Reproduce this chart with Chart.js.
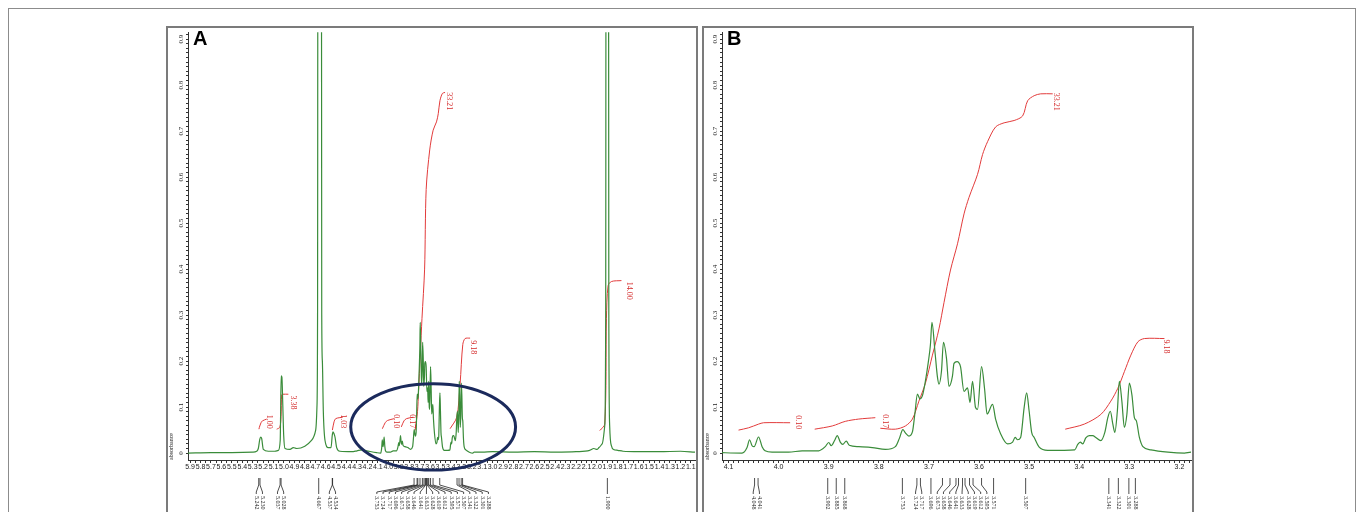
<!DOCTYPE html>
<html>
<head>
<meta charset="utf-8">
<script src="https://cdn.jsdelivr.net/npm/chart.js@4.4.0/dist/chart.umd.min.js"></script>
<style>
  body { margin: 0; background: #fff; width: 1358px; height: 512px; overflow: hidden; position: relative; }
  #frame { position: absolute; left: 8px; top: 8px; width: 1346px; height: 540px; border: 1px solid #8c8c8c; }
  .panel { position: absolute; top: 26px; height: 520px; border: 2px solid #7b7b7b; box-sizing: border-box; }
  #panelA { left: 166px; width: 532px; }
  #panelB { left: 702px; width: 492px; }
  canvas { position: absolute; }
  .tag { position: absolute; top: 28px; font: bold 20px "Liberation Sans", Arial, sans-serif; line-height: 20px; color: #000; }
</style>
</head>
<body>
<div id="frame"></div>
<div class="panel" id="panelA"></div>
<div class="panel" id="panelB"></div>
<canvas id="chartA" width="528" height="484" style="left:168px;top:28px"></canvas>
<canvas id="chartB" width="488" height="484" style="left:704px;top:28px"></canvas>
<div class="tag" style="left:193px">A</div>
<div class="tag" style="left:727px">B</div>
<script>
// 1H NMR spectrum, chemical shift (ppm) and absorbance
const spectrumPpm = [
  5.92, 5.7, 5.5, 5.3, 5.262, 5.246, 5.232, 5.223, 5.214, 5.198, 5.15, 5.09, 5.054,
  5.036, 5.027, 5.02, 5.012, 5.003, 4.99, 4.942, 4.911, 4.878, 4.8, 4.734, 4.696, 4.684,
  4.678, 4.674, 4.642, 4.638, 4.632, 4.623, 4.607, 4.575, 4.549, 4.537, 4.53,
  4.522, 4.511, 4.495, 4.463, 4.35, 4.3, 4.255, 4.207, 4.113,
  4.073, 4.063, 4.058, 4.053, 4.049, 4.040, 4.033, 4.027, 4.013, 3.98, 3.953, 3.92,
  3.907, 3.900, 3.895, 3.888, 3.883, 3.877, 3.872, 3.865, 3.859, 3.84, 3.813, 3.787,
  3.767, 3.759, 3.752, 3.747, 3.740, 3.733, 3.728, 3.723, 3.718, 3.713, 3.707, 3.701,
  3.697, 3.694, 3.688, 3.683, 3.680, 3.675, 3.671, 3.665, 3.660, 3.653, 3.650, 3.644,
  3.637, 3.630, 3.623, 3.618, 3.613, 3.607, 3.603, 3.595, 3.589, 3.584, 3.573, 3.567,
  3.557, 3.543, 3.533, 3.528, 3.523, 3.517, 3.510, 3.505, 3.500, 3.495, 3.490, 3.480,
  3.463, 3.430, 3.409, 3.403, 3.398, 3.393, 3.387, 3.380, 3.373, 3.367, 3.357, 3.349,
  3.343, 3.338, 3.333, 3.329, 3.324, 3.320, 3.315, 3.310, 3.305, 3.300, 3.295, 3.290,
  3.286, 3.280, 3.273, 3.257, 3.223, 3.190, 3.177,
  3.1, 3.0, 2.8, 2.6, 2.4, 2.2, 2.07, 2.03, 2.0, 1.98, 1.95, 1.925, 1.916, 1.912, 1.89,
  1.886, 1.878, 1.86, 1.84, 1.8, 1.75, 1.6, 1.4, 1.2, 1.06
];
const spectrumAbs = [
  0.0, 0.001, 0.001, 0.002, 0.004, 0.01, 0.03, 0.035, 0.032, 0.008, 0.004, 0.004, 0.006,
  0.028, 0.168, 0.165, 0.11, 0.04, 0.01, 0.008, 0.012, 0.01, 0.015, 0.028, 0.05, 0.1,
  0.3, 1.5, 1.5, 0.3, 0.2, 0.092, 0.028, 0.012, 0.012, 0.039, 0.046,
  0.043, 0.035, 0.012, 0.004, 0.003, 0.005, 0.007, 0.005, 0.001,
  0.0, 0.012, 0.029, 0.016, 0.014, 0.035, 0.014, 0.005, 0.002, 0.002, 0.005, 0.005,
  0.014, 0.023, 0.016, 0.028, 0.038, 0.024, 0.019, 0.026, 0.017, 0.014, 0.012, 0.008,
  0.014, 0.032, 0.051, 0.044, 0.037, 0.046, 0.086, 0.128, 0.118, 0.125, 0.157, 0.2,
  0.236, 0.284, 0.221, 0.165, 0.15, 0.178, 0.241, 0.206, 0.145, 0.168, 0.195, 0.199,
  0.188, 0.134, 0.142, 0.11, 0.156, 0.099, 0.095, 0.188, 0.14, 0.085, 0.106, 0.074,
  0.042, 0.02, 0.024, 0.034, 0.029, 0.034, 0.099, 0.131, 0.091, 0.045, 0.034, 0.013,
  0.006, 0.006, 0.007, 0.019, 0.024, 0.02, 0.033, 0.038, 0.038, 0.034, 0.027, 0.045,
  0.077, 0.091, 0.063, 0.045, 0.091, 0.156, 0.113, 0.056, 0.084, 0.152, 0.127, 0.077,
  0.07, 0.034, 0.014, 0.007, 0.002, 0.0, 0.002,
  0.002, 0.003, 0.002, 0.003, 0.002, 0.003, 0.006, 0.01, 0.008, 0.012, 0.02, 0.06, 0.3, 1.5, 1.5,
  0.3, 0.06, 0.015, 0.008, 0.006, 0.004, 0.003, 0.003, 0.004, 0.002
];

const absTicks = [0, 0.1, 0.2, 0.3, 0.4, 0.5, 0.6, 0.7, 0.8, 0.9];
const ppmTicksA = [5.9, 5.8, 5.7, 5.6, 5.5, 5.4, 5.3, 5.2, 5.1, 5.0, 4.9, 4.8, 4.7, 4.6, 4.5,
  4.4, 4.3, 4.2, 4.1, 4.0, 3.9, 3.8, 3.7, 3.6, 3.5, 3.4, 3.3, 3.2, 3.1, 3.0, 2.9, 2.8, 2.7,
  2.6, 2.5, 2.4, 2.3, 2.2, 2.1, 2.0, 1.9, 1.8, 1.7, 1.6, 1.5, 1.4, 1.3, 1.2, 1.1];
const ppmTicksB = [4.1, 4.0, 3.9, 3.8, 3.7, 3.6, 3.5, 3.4, 3.3, 3.2];

// integral traces [ppm, value], their labels and label anchors
const integralsA = [
  [[5.24, 0.052], [5.236, 0.056], [5.22, 0.066], [5.207, 0.07], [5.165, 0.074]],
  [[5.07, 0.052], [5.04, 0.056], [5.028, 0.08], [5.022, 0.127], [5.01, 0.128], [4.958, 0.128]],
  [[4.536, 0.05], [4.52, 0.068], [4.503, 0.075], [4.437, 0.078]],
  [[4.057, 0.053], [4.03, 0.066], [4.007, 0.071], [3.941, 0.075]],
  [[3.875, 0.057], [3.85, 0.07], [3.825, 0.075], [3.76, 0.078]],
  [[3.743, 0.049], [3.72, 0.09], [3.71, 0.135], [3.677, 0.293], [3.652, 0.40], [3.637, 0.573],
   [3.603, 0.659], [3.57, 0.702], [3.538, 0.72], [3.521, 0.738], [3.505, 0.766], [3.481, 0.782], [3.456, 0.784]],
  [[3.408, 0.053], [3.344, 0.078], [3.312, 0.15], [3.286, 0.236], [3.264, 0.249], [3.216, 0.25]],
  [[1.973, 0.049], [1.925, 0.063], [1.909, 0.292], [1.893, 0.364], [1.861, 0.373], [1.765, 0.375]]
];
const integralTextA = ['1.00', '3.38', '1.03', '0.10', '0.17', '33.21', '9.18', '14.00'];
const integralAtA = [[5.143, 0.068], [4.913, 0.11], [4.434, 0.069], [3.926, 0.069], [3.773, 0.069],
  [3.418, 0.765], [3.188, 0.23], [1.692, 0.353]];

const integralsB = [
  [[4.08, 0.05], [4.06, 0.055], [4.04, 0.063], [4.03, 0.066], [3.977, 0.066]],
  [[3.928, 0.052], [3.893, 0.059], [3.867, 0.069], [3.84, 0.074], [3.807, 0.077]],
  [[3.797, 0.054], [3.767, 0.052], [3.747, 0.059], [3.733, 0.074], [3.72, 0.113], [3.707, 0.152],
   [3.693, 0.213], [3.68, 0.27], [3.67, 0.327], [3.657, 0.398], [3.643, 0.455], [3.63, 0.52],
   [3.62, 0.556], [3.603, 0.606], [3.593, 0.649], [3.583, 0.677], [3.567, 0.709], [3.55, 0.718],
   [3.53, 0.723], [3.513, 0.733], [3.503, 0.766], [3.49, 0.777], [3.477, 0.781], [3.453, 0.781]],
  [[3.428, 0.052], [3.39, 0.063], [3.357, 0.084], [3.337, 0.113], [3.323, 0.141], [3.31, 0.177],
   [3.297, 0.213], [3.283, 0.242], [3.27, 0.249], [3.23, 0.249]]
];
const integralTextB = ['0.10', '0.17', '33.21', '9.18'];
const integralAtB = [[3.962, 0.067], [3.788, 0.069], [3.446, 0.764], [3.226, 0.232]];

// picked peaks printed under the axis
const peaksA = [5.242, 5.230, 5.037, 5.028, 4.667, 4.537, 4.534, 3.753, 3.724, 3.717, 3.696,
  3.673, 3.658, 3.646, 3.641, 3.633, 3.628, 3.619, 3.612, 3.595, 3.571, 3.507, 3.341, 3.322,
  3.301, 3.288, 1.900];
const peaksB = [4.048, 4.041, 3.902, 3.885, 3.868, 3.753, 3.724, 3.717, 3.696, 3.673, 3.658,
  3.646, 3.641, 3.633, 3.628, 3.619, 3.612, 3.595, 3.571, 3.507, 3.341, 3.322, 3.301, 3.288];

// circled region in panel A (centre and half axes, in ppm / absorbance)
const circleA = [3.57, 0.057, 0.79, 0.094];

const GREEN = '#3a8c3a';
const RED = '#e23b3b';

function tickList(lo, hi, step) {
  const out = [];
  const first = Math.ceil(lo / step - 1e-6), last = Math.floor(hi / step + 1e-6);
  for (let k = first; k <= last; k++) out.push({ value: +(k * step).toFixed(4) });
  return out;
}

function isMajor(list, v) {
  return list.some((m) => Math.abs(m - v) < 1e-6);
}

const marksPlugin = {
  id: 'marks',
  afterDatasetsDraw(chart, args, opts) {
    const { ctx, scales: { x, y } } = chart;
    ctx.save();

    // integral values
    ctx.fillStyle = '#d42a2a';
    ctx.font = '8px "Liberation Serif", serif';
    ctx.textAlign = 'center';
    ctx.textBaseline = 'middle';
    opts.texts.forEach((t, i) => {
      const px = x.getPixelForValue(opts.at[i][0]);
      const py = y.getPixelForValue(opts.at[i][1]);
      ctx.save();
      ctx.translate(px, py);
      ctx.rotate(Math.PI / 2);
      ctx.fillText(t, 0, 0);
      ctx.restore();
    });

    // peak picking lines and labels
    const base = x.top;
    const pos = opts.peaks.map((p) => x.getPixelForValue(p));
    const lab = pos.slice();
    const gap = 6.2;
    for (let it = 0; it < 300; it++) {
      for (let i = 1; i < lab.length; i++) {
        const d = lab[i] - lab[i - 1];
        if (d < gap) {
          const m = (gap - d) / 2;
          lab[i - 1] -= m;
          lab[i] += m;
        }
      }
    }
    ctx.strokeStyle = '#222';
    ctx.lineWidth = 0.8;
    ctx.fillStyle = '#222';
    ctx.font = '6px "Liberation Serif", serif';
    ctx.textAlign = 'left';
    pos.forEach((p, i) => {
      ctx.beginPath();
      ctx.moveTo(p, base + 18);
      ctx.lineTo(p, base + 25);
      ctx.lineTo(lab[i], base + 32);
      ctx.lineTo(lab[i], base + 34);
      ctx.stroke();
      ctx.save();
      ctx.translate(lab[i], base + 36);
      ctx.rotate(Math.PI / 2);
      ctx.fillText(opts.peaks[i].toFixed(3), 0, 0);
      ctx.restore();
    });

    // highlight ellipse
    if (opts.circle) {
      const [c, a, hx, hy] = opts.circle;
      const cx = x.getPixelForValue(c), cy = y.getPixelForValue(a);
      const rx = Math.abs(x.getPixelForValue(c - hx) - cx);
      const ry = Math.abs(y.getPixelForValue(a + hy) - cy);
      ctx.strokeStyle = '#1b2a5c';
      ctx.lineWidth = 3;
      ctx.beginPath();
      ctx.ellipse(cx, cy, rx, ry, 0, 0, Math.PI * 2);
      ctx.stroke();
    }
    ctx.restore();
  }
};

function makePanel(id, lo, hi, majors, minorStep, integrals, texts, at, peaks, circle, yWidth, lineW) {
  const spectrum = spectrumPpm.map((p, i) => ({ x: p, y: spectrumAbs[i] }));
  const datasets = [{
    data: spectrum, borderColor: GREEN, borderWidth: lineW, pointRadius: 0,
    cubicInterpolationMode: 'monotone'
  }];
  integrals.forEach((curve) => {
    datasets.push({
      data: curve.map((q) => ({ x: q[0], y: q[1] })),
      borderColor: RED, borderWidth: 1, pointRadius: 0, tension: 0.3
    });
  });

  new Chart(document.getElementById(id), {
    type: 'line',
    data: { datasets },
    options: {
      responsive: false,
      animation: false,
      layout: { padding: { top: 0, right: 1, left: 0, bottom: 0 } },
      plugins: {
        legend: { display: false },
        tooltip: { enabled: false },
        marks: { texts, at, peaks, circle }
      },
      scales: {
        x: {
          type: 'linear',
          reverse: true,
          min: lo,
          max: hi,
          afterBuildTicks: (s) => { s.ticks = tickList(lo, hi, minorStep); },
          afterFit: (s) => { s.height = 52; },
          ticks: {
            autoSkip: false, maxRotation: 0, minRotation: 0, padding: 0,
            color: '#222', font: { size: 7, family: '"Liberation Sans", Arial' },
            callback: (v) => (isMajor(majors, v) ? v.toFixed(1) : '')
          },
          grid: { display: true, drawOnChartArea: false, drawTicks: true, tickLength: 3, color: '#333' },
          border: { display: true, color: '#333', width: 1 }
        },
        y: {
          min: -0.015,
          max: 0.915,
          afterBuildTicks: (s) => { s.ticks = tickList(0, 0.91, 0.01); },
          afterFit: (s) => { s.width = yWidth; },
          title: {
            display: true, text: 'absorbance', align: 'start', padding: 0,
            color: '#222', font: { size: 6, family: '"Liberation Serif", serif' }
          },
          ticks: {
            autoSkip: false, minRotation: 90, maxRotation: 90, crossAlign: 'center', padding: 0,
            color: '#222', font: { size: 7, family: '"Liberation Serif", serif' },
            callback: (v) => (isMajor(absTicks, v) ? (v === 0 ? '0' : v.toFixed(1)) : '')
          },
          grid: { display: true, drawOnChartArea: false, drawTicks: true, tickLength: 2, color: '#333' },
          border: { display: true, color: '#333', width: 1 }
        }
      }
    },
    plugins: [marksPlugin]
  });
}

makePanel('chartA', 1.06, 5.92, ppmTicksA, 0.05, integralsA, integralTextA, integralAtA, peaksA, circleA, 20, 1.2);
makePanel('chartB', 3.177, 4.113, ppmTicksB, 0.01, integralsB, integralTextB, integralAtB, peaksB, null, 18, 1.2);
</script>
</body>
</html>
